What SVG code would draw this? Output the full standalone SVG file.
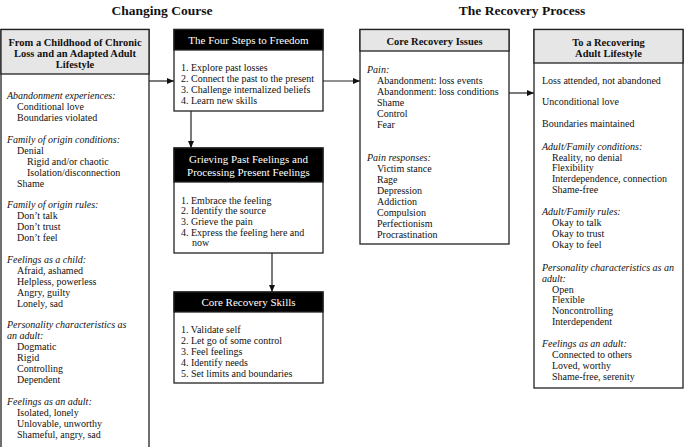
<svg xmlns="http://www.w3.org/2000/svg" width="684" height="447" viewBox="0 0 684 447">
<style>
text{font-family:"Liberation Serif","Times New Roman",serif;font-size:10px;fill:#111}
.t{font-size:13.5px;font-weight:bold;text-anchor:middle}
.hg{font-size:10.5px;font-weight:bold;text-anchor:middle}
.hb{font-size:11px;fill:#fff;text-anchor:middle}
.i{font-style:italic}
.box{fill:#fff;stroke:#222;stroke-width:1.3}
.gh{fill:#e6e6e6;stroke:#222;stroke-width:1.3}
.bh{fill:#000;stroke:#222;stroke-width:1.3}
.c{stroke:#222;stroke-width:1.2;fill:none;marker-end:url(#ah)}
</style>
<defs>
<marker id="ah" markerUnits="userSpaceOnUse" markerWidth="8" markerHeight="6" refX="7" refY="3" orient="auto">
<path d="M0,0 L7,3 L0,6 Z" fill="#111"/>
</marker>
</defs>
<rect width="684" height="447" fill="#fff"/>
<text class="t" x="162" y="15">Changing Course</text>
<text class="t" x="522" y="15">The Recovery Process</text>

<g id="connectors">
<line class="c" x1="149" y1="81" x2="174" y2="81"/>
<line class="c" x1="323" y1="81" x2="360" y2="81"/>
<line class="c" x1="509" y1="93" x2="534" y2="93"/>
<line class="c" x1="191" y1="111" x2="191" y2="148"/>
<line class="c" x1="272" y1="253" x2="272" y2="292"/>
</g>

<g id="node-childhood">
<rect class="box" x="1" y="29.5" width="148" height="430"/>
<rect class="gh" x="1" y="29.5" width="148" height="44.5"/>
<text class="hg" x="75" y="46">From a Childhood of Chronic</text>
<text class="hg" x="75" y="57">Loss and an Adapted Adult</text>
<text class="hg" x="75" y="68">Lifestyle</text>
<text class="i" x="7" y="99">Abandonment experiences:</text>
<text x="17" y="110">Conditional love</text>
<text x="17" y="121">Boundaries violated</text>
<text class="i" x="7" y="143">Family of origin conditions:</text>
<text x="17" y="154">Denial</text>
<text x="27" y="165">Rigid and/or chaotic</text>
<text x="27" y="176">Isolation/disconnection</text>
<text x="17" y="187">Shame</text>
<text class="i" x="7" y="208">Family of origin rules:</text>
<text x="17" y="219">Don’t talk</text>
<text x="17" y="230">Don’t trust</text>
<text x="17" y="241">Don’t feel</text>
<text class="i" x="7" y="263">Feelings as a child:</text>
<text x="17" y="274">Afraid, ashamed</text>
<text x="17" y="285">Helpless, powerless</text>
<text x="17" y="296">Angry, guilty</text>
<text x="17" y="307">Lonely, sad</text>
<text class="i" x="7" y="328">Personality characteristics as</text>
<text class="i" x="7" y="339">an adult:</text>
<text x="17" y="350">Dogmatic</text>
<text x="17" y="361">Rigid</text>
<text x="17" y="372">Controlling</text>
<text x="17" y="383">Dependent</text>
<text class="i" x="7" y="405">Feelings as an adult:</text>
<text x="17" y="416">Isolated, lonely</text>
<text x="17" y="427">Unlovable, unworthy</text>
<text x="17" y="438">Shameful, angry, sad</text>
</g>

<g id="node-four-steps">
<rect class="box" x="174" y="29.5" width="149" height="81.5"/>
<rect class="bh" x="174" y="29.5" width="149" height="20.5"/>
<text class="hb" x="248.5" y="44">The Four Steps to Freedom</text>
<text x="181" y="70.5">1. Explore past losses</text>
<text x="181" y="81.5">2. Connect the past to the present</text>
<text x="181" y="92.5">3. Challenge internalized beliefs</text>
<text x="181" y="103.5">4. Learn new skills</text>
</g>

<g id="node-grieving">
<rect class="box" x="174" y="148" width="149" height="105"/>
<rect class="bh" x="174" y="148" width="149" height="34"/>
<text class="hb" x="248.5" y="163">Grieving Past Feelings and</text>
<text class="hb" x="248.5" y="176">Processing Present Feelings</text>
<text x="181" y="203.5">1. Embrace the feeling</text>
<text x="181" y="214.2">2. Identify the source</text>
<text x="181" y="224.9">3. Grieve the pain</text>
<text x="181" y="235.6">4. Express the feeling here and</text>
<text x="192" y="246.3">now</text>
</g>

<g id="node-skills">
<rect class="box" x="174" y="292" width="149" height="91"/>
<rect class="bh" x="174" y="292" width="149" height="20"/>
<text class="hb" x="248.5" y="306">Core Recovery Skills</text>
<text x="181" y="332.5">1. Validate self</text>
<text x="181" y="343.5">2. Let go of some control</text>
<text x="181" y="354.5">3. Feel feelings</text>
<text x="181" y="365.5">4. Identify needs</text>
<text x="181" y="376.5">5. Set limits and boundaries</text>
</g>

<g id="node-issues">
<rect class="box" x="360" y="29.5" width="149" height="214.5"/>
<rect class="gh" x="360" y="29.5" width="149" height="21.5"/>
<text class="hg" x="434.5" y="44.5">Core Recovery Issues</text>
<text class="i" x="367" y="72.5">Pain:</text>
<text x="377" y="83.5">Abandonment: loss events</text>
<text x="377" y="94.5">Abandonment: loss conditions</text>
<text x="377" y="105.5">Shame</text>
<text x="377" y="116.5">Control</text>
<text x="377" y="127.5">Fear</text>
<text class="i" x="367" y="160.5">Pain responses:</text>
<text x="377" y="171.5">Victim stance</text>
<text x="377" y="182.5">Rage</text>
<text x="377" y="193.5">Depression</text>
<text x="377" y="204.5">Addiction</text>
<text x="377" y="215.5">Compulsion</text>
<text x="377" y="226.5">Perfectionism</text>
<text x="377" y="237.5">Procrastination</text>
</g>

<g id="node-recovering">
<rect class="box" x="534" y="29.5" width="149" height="358.5"/>
<rect class="gh" x="534" y="29.5" width="149" height="33.5"/>
<text class="hg" x="608.5" y="46">To a Recovering</text>
<text class="hg" x="608.5" y="57">Adult Lifestyle</text>
<text x="542" y="83.5">Loss attended, not abandoned</text>
<text x="542" y="104.5">Unconditional love</text>
<text x="542" y="126.5">Boundaries maintained</text>
<text class="i" x="542" y="149.5">Adult/Family conditions:</text>
<text x="552" y="160.5">Reality, no denial</text>
<text x="552" y="171">Flexibility</text>
<text x="552" y="182">Interdependence, connection</text>
<text x="552" y="192.5">Shame-free</text>
<text class="i" x="542" y="215">Adult/Family rules:</text>
<text x="552" y="226">Okay to talk</text>
<text x="552" y="237">Okay to trust</text>
<text x="552" y="248">Okay to feel</text>
<text class="i" x="542" y="270.5">Personality characteristics as an</text>
<text class="i" x="542" y="281.5">adult:</text>
<text x="552" y="292.5">Open</text>
<text x="552" y="303">Flexible</text>
<text x="552" y="314">Noncontrolling</text>
<text x="552" y="325">Interdependent</text>
<text class="i" x="542" y="346.5">Feelings as an adult:</text>
<text x="552" y="357.5">Connected to others</text>
<text x="552" y="368.5">Loved, worthy</text>
<text x="552" y="379.5">Shame-free, serenity</text>
</g>
</svg>
